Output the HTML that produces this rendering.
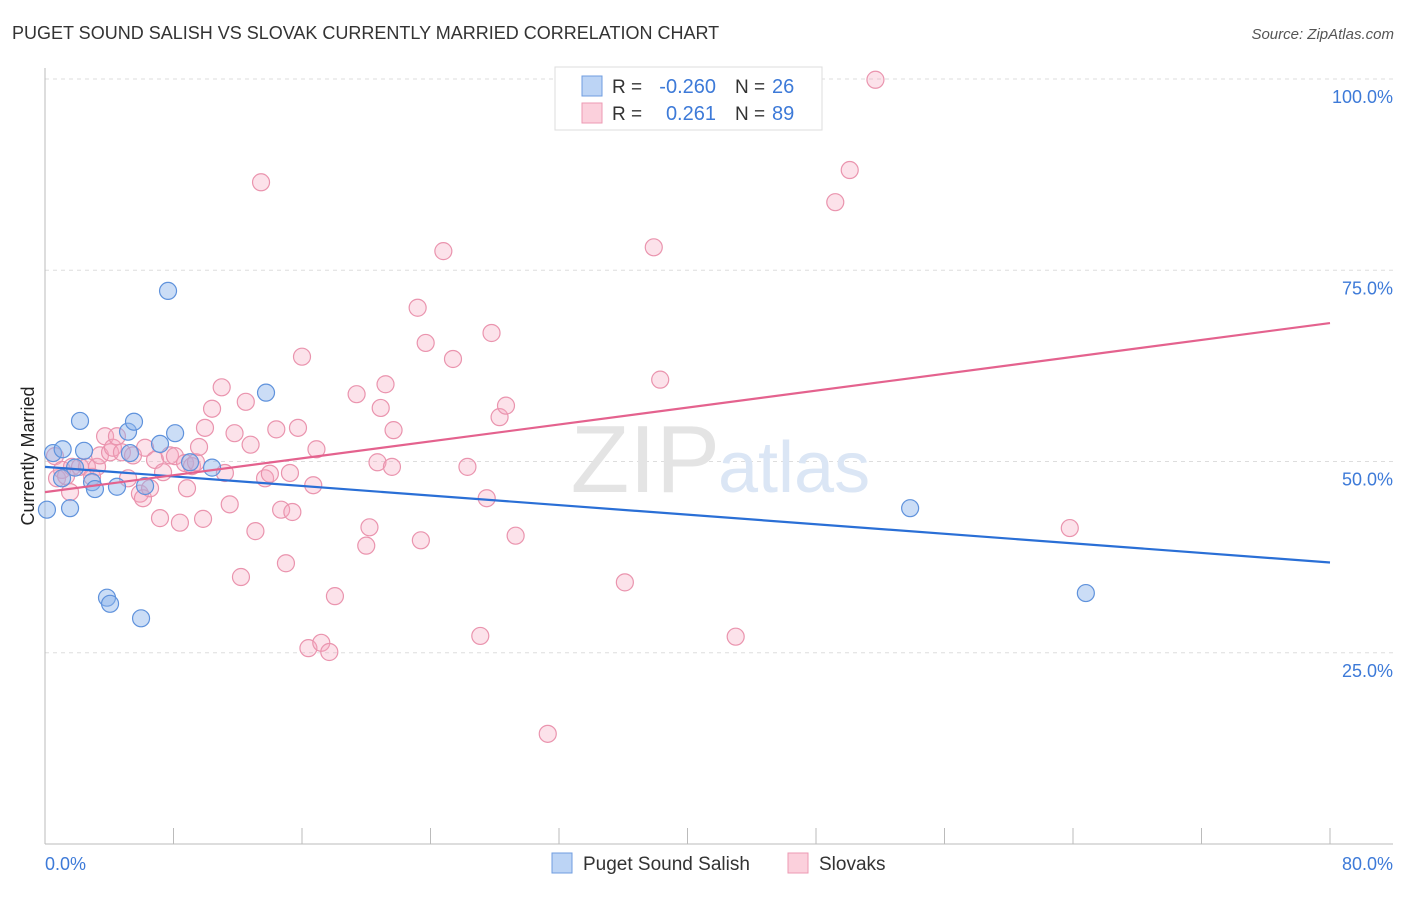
<!DOCTYPE html>
<html><head><meta charset="utf-8"><style>
body{margin:0;background:#fff;font-family:"Liberation Sans",sans-serif;}
svg text{font-family:"Liberation Sans",sans-serif;}
</style></head><body>
<svg id="c" width="1406" height="892" xmlns="http://www.w3.org/2000/svg">
<text x="12" y="39" font-size="18" fill="#333">PUGET SOUND SALISH VS SLOVAK CURRENTLY MARRIED CORRELATION CHART</text>
<text x="1394" y="39" font-size="15" fill="#555" font-style="italic" text-anchor="end">Source: ZipAtlas.com</text>
<g id="grid"></g>
<text x="720" y="492" font-size="96" fill="#e4e4e4" text-anchor="end" font-family="Liberation Serif">ZIP</text>
<text x="718" y="492" font-size="72" fill="#dbe6f5">atlas</text>
<line x1="45" y1="68" x2="45" y2="844" stroke="#bbb"/>
<line x1="45" y1="844" x2="1393" y2="844" stroke="#bbb"/>
<text transform="translate(34,456) rotate(-90)" font-size="18" fill="#222" text-anchor="middle">Currently Married</text>
<text x="45" y="870" font-size="18" fill="#3d7ad8">0.0%</text>
<text x="1393" y="870" font-size="18" fill="#3d7ad8" text-anchor="end">80.0%</text>
<g id="marks"></g>
<g>
<rect x="555" y="67" width="267" height="63" fill="#fff" stroke="#ddd"/>
<rect x="582" y="76" width="20" height="20" fill="#bcd4f5" stroke="#6f9de0"/>
<rect x="582" y="103" width="20" height="20" fill="#fbd0dc" stroke="#ec9ab3"/>
<text x="612" y="93" font-size="19" fill="#333">R =</text>
<text x="716" y="93" font-size="20" fill="#3d7ad8" text-anchor="end">-0.260</text>
<text x="735" y="93" font-size="19" fill="#333">N =</text>
<text x="772" y="93" font-size="20" fill="#3d7ad8">26</text>
<text x="612" y="120" font-size="19" fill="#333">R =</text>
<text x="716" y="120" font-size="20" fill="#3d7ad8" text-anchor="end">0.261</text>
<text x="735" y="120" font-size="19" fill="#333">N =</text>
<text x="772" y="120" font-size="20" fill="#3d7ad8">89</text>
</g>
<g>
<rect x="552" y="853" width="20" height="20" fill="#bcd4f5" stroke="#6f9de0"/>
<text x="583" y="870" font-size="19" fill="#333">Puget Sound Salish</text>
<rect x="788" y="853" width="20" height="20" fill="#fbd0dc" stroke="#ec9ab3"/>
<text x="819" y="870" font-size="19" fill="#333">Slovaks</text>
</g>
</svg>
<script>
const yTicks=[25,50,75,100];
const yTickLabels=["25.0%","50.0%","75.0%","100.0%"];
const xTicks=[0,8,16,24,32,40,48,56,64,72,80];
const blueX=[0.12,0.5,1.1,1.06,1.56,1.87,2.18,2.43,2.93,3.11,3.86,4.05,4.48,5.17,5.29,5.54,5.98,6.23,7.16,7.66,8.1,9.03,10.4,13.76,53.86,64.8];
const blueY=[43.7,51.1,51.6,47.8,43.9,49.2,55.3,51.4,47.3,46.4,32.2,31.4,46.7,53.9,51.1,55.2,29.5,46.8,52.3,72.3,53.7,49.9,49.2,59.0,43.9,32.8];
const pinkX=[0.62,0.75,1.06,1.31,1.56,1.68,2.18,2.61,2.93,3.24,3.42,3.74,4.05,4.23,4.48,4.79,5.17,5.48,5.91,6.1,6.23,6.54,6.85,7.16,7.35,7.78,8.09,8.4,8.72,8.84,9.15,9.4,9.59,9.84,9.96,10.4,11.0,11.2,11.5,11.8,12.2,12.5,12.8,13.1,13.45,13.7,14.0,14.4,14.7,15.0,15.25,15.4,15.75,16.0,16.4,16.7,16.9,17.2,17.7,18.05,19.4,20.0,20.2,20.7,20.9,21.2,21.6,21.7,23.2,23.4,23.7,24.8,25.4,26.3,27.1,27.5,27.8,28.3,28.7,29.3,31.3,36.1,37.9,38.3,43.0,49.2,50.1,51.7,63.8];
const pinkY=[50.7,47.8,48.9,48.1,46.0,49.3,49.3,49.3,48.0,49.3,50.8,53.3,51.2,51.8,53.3,51.2,47.8,50.8,45.8,45.2,51.8,46.5,50.2,42.6,48.6,50.8,50.7,42.0,49.8,46.5,49.4,49.9,51.9,42.5,54.4,56.9,59.7,48.5,44.4,53.7,34.9,57.8,52.2,40.9,86.5,47.8,48.4,54.2,43.7,36.7,48.5,43.4,54.4,63.7,25.6,46.9,51.6,26.3,25.1,32.4,58.8,39.0,41.4,49.9,57.0,60.1,49.3,54.1,70.1,39.7,65.5,77.5,63.4,49.3,27.2,45.2,66.8,55.8,57.3,40.3,14.4,34.2,78.0,60.7,27.1,83.9,88.1,99.9,41.3];
const blueTrend=[49.3,36.8];
const pinkTrend=[46.0,68.1];
const NS="http://www.w3.org/2000/svg";
function sx(v){return 45+v/80*1285;}
function sy(v){return 844-v/100*765;}
function mk(t,a,p){const e=document.createElementNS(NS,t);for(const k in a)e.setAttribute(k,a[k]);p.appendChild(e);return e;}
const grid=document.getElementById('grid'),marks=document.getElementById('marks');
yTicks.forEach((t,i)=>{
 const l=mk('line',{x1:45,x2:1393,y1:sy(t),y2:sy(t),stroke:'#ddd','stroke-dasharray':'4,4'},grid);
 
 
 const tx=mk('text',{x:1393,y:sy(t)+24,'font-size':18,fill:'#3d7ad8','text-anchor':'end'},grid);
 tx.textContent=yTickLabels[i];
 
 
});
xTicks.forEach(t=>{
 const l=mk('line',{x1:sx(t),x2:sx(t),y1:828,y2:844,stroke:'#bbb'},grid);
 
 
});
pinkX.forEach((x,i)=>{
 const c=mk('circle',{cx:sx(x),cy:sy(pinkY[i]),r:8.5,fill:'rgba(246,168,192,0.33)',stroke:'#ea94ae','stroke-width':1.2},marks);
 
 
});
blueX.forEach((x,i)=>{
 const c=mk('circle',{cx:sx(x),cy:sy(blueY[i]),r:8.5,fill:'rgba(140,180,236,0.45)',stroke:'#5f92dc','stroke-width':1.2},marks);
 
 
});
const bl=mk('line',{x1:sx(0),y1:sy(blueTrend[0]),x2:sx(80),y2:sy(blueTrend[1]),stroke:'#2a6fd6','stroke-width':2.2},marks);


const pl=mk('line',{x1:sx(0),y1:sy(pinkTrend[0]),x2:sx(80),y2:sy(pinkTrend[1]),stroke:'#e4628e','stroke-width':2.2},marks);


</script>
</body></html>
